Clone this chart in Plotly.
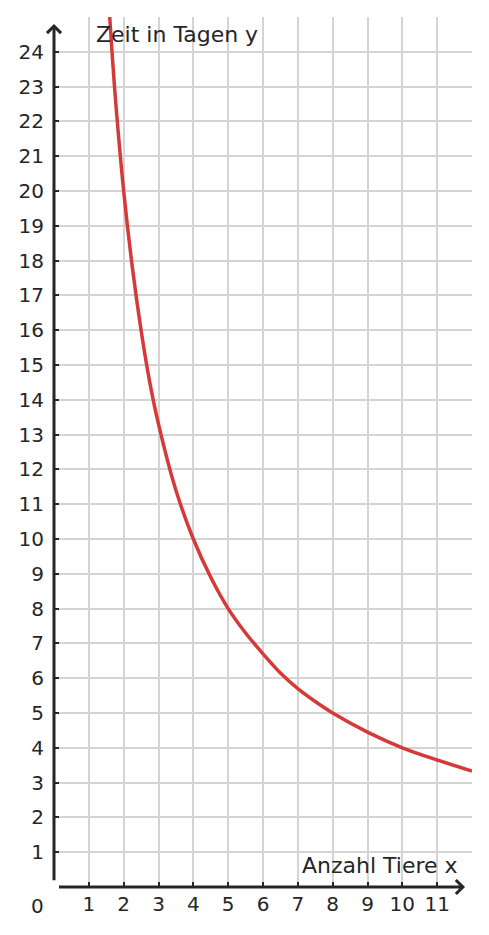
import plotly.graph_objects as go

# values
tiere_x = [1.55, 1.6, 1.7, 1.8, 2.0, 2.25, 2.5, 2.75, 3.0, 3.5, 4.0, 4.5, 5.0, 5.5, 6.0, 6.5, 7.0, 7.5, 8.0, 9.0, 10.0, 11.0, 12.0]
tage_y = [25.8, 25.0, 23.5, 22.2, 20.0, 17.8, 16.0, 14.5, 13.3, 11.4, 10.0, 8.9, 8.0, 7.3, 6.7, 6.15, 5.7, 5.33, 5.0, 4.45, 4.0, 3.65, 3.33]

x_ticks = list(range(1, 13))
x_ticktext = [str(v) for v in range(1, 12)] + [""]
y_ticks = list(range(1, 25))

ink = "#262626"
grid = "#d4d4d4"
font_family = "DejaVu Sans"
tick_size = 20

fig = go.Figure()
fig.add_trace(go.Scatter(
    x=tiere_x, y=tage_y, mode="lines",
    line=dict(color="#d63a38", width=3.5, shape="spline", smoothing=1.0),
    hoverinfo="skip", showlegend=False,
))

# page body has an 8px margin on top/left
fig.update_layout(
    width=481, height=927,
    margin=dict(l=46, r=17, t=9, b=48),
    paper_bgcolor="white", plot_bgcolor="white",
    font=dict(family=font_family, size=tick_size, color=ink),
    showlegend=False,
)
fig.update_xaxes(
    range=[0, 12], tickvals=x_ticks, ticktext=x_ticktext,
    showgrid=True, gridcolor=grid, gridwidth=2,
    zeroline=False, showline=False,
    ticks="inside", ticklen=5, tickwidth=2, tickcolor=ink,
    tickfont=dict(size=tick_size, color=ink, family=font_family), ticklabelstandoff=3,
    fixedrange=True,
)
fig.update_yaxes(
    range=[0, 25], tickvals=y_ticks,
    showgrid=True, gridcolor=grid, gridwidth=2,
    zeroline=False, showline=False,
    ticks="inside", ticklen=5, tickwidth=2, tickcolor=ink,
    tickfont=dict(size=tick_size, color=ink, family=font_family), ticklabelstandoff=9,
    fixedrange=True,
)

annotations = [
    dict(x=0, y=24.8, ax=0, ay=0.15, xref="x", yref="y", axref="x", ayref="y",
         showarrow=True, arrowhead=4, arrowsize=0.9, arrowwidth=3, arrowcolor=ink, text=""),
    dict(x=11.8, y=0, ax=0.1, ay=0, xref="x", yref="y", axref="x", ayref="y",
         showarrow=True, arrowhead=4, arrowsize=0.9, arrowwidth=3, arrowcolor=ink, text=""),
    dict(x=1.14, y=24.5, xref="x", yref="y", text="Zeit in Tagen y", showarrow=False,
         xanchor="left", yanchor="middle", font=dict(size=22, color=ink, family=font_family)),
    dict(x=11.65, y=0.62, xref="x", yref="y", text="Anzahl Tiere x", showarrow=False,
         xanchor="right", yanchor="middle", font=dict(size=22, color=ink, family=font_family)),
    dict(x=0, y=0, xref="x", yref="y", text="0", showarrow=False, xshift=-17, yshift=-19,
         xanchor="center", yanchor="middle", font=dict(size=tick_size, color=ink, family=font_family)),
]
fig.update_layout(annotations=annotations)

fig.write_html("out.html")
